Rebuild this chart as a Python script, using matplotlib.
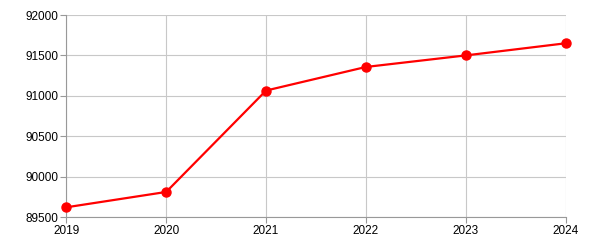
import matplotlib
matplotlib.use("Agg")
import matplotlib.pyplot as plt

# ── Data ───────────────────────────────────────────────────────────────────────
years  = [2019, 2020, 2021, 2022, 2023, 2024]
values = [89620, 89810, 91065, 91357, 91500, 91650]
y_ticks = [89500, 90000, 90500, 91000, 91500, 92000]

plt.rcParams["font.family"] = ["Liberation Sans", "DejaVu Sans"]

fig = plt.figure(figsize=(6, 2.5), dpi=100)
ax = fig.add_axes([66.3 / 600, 1 - 217 / 250, (565.7 - 66.3) / 600, (217 - 15) / 250])

ax.plot(years, values, color="#ff0000", linewidth=1.6, marker="o",
        markersize=6.5, zorder=3, clip_on=False)

ax.set_xlim(years[0], years[-1])
ax.set_ylim(y_ticks[0], y_ticks[-1])
ax.set_xticks(years)
ax.set_yticks(y_ticks)
ax.set_xticklabels([str(y) for y in years])
ax.set_yticklabels([str(v) for v in y_ticks])

ax.grid(True, color="#c8c8c8", linewidth=0.8)
ax.set_axisbelow(True)
for side in ["top", "right"]:
    ax.spines[side].set_visible(False)
for side in ["left", "bottom"]:
    ax.spines[side].set_color("#999999")
    ax.spines[side].set_linewidth(0.8)
ax.tick_params(axis="both", colors="#999999", labelcolor="black",
               labelsize=8.5, length=4, width=0.8, pad=1.5)

fig.savefig("out.png", dpi=100)
plt.close(fig)
